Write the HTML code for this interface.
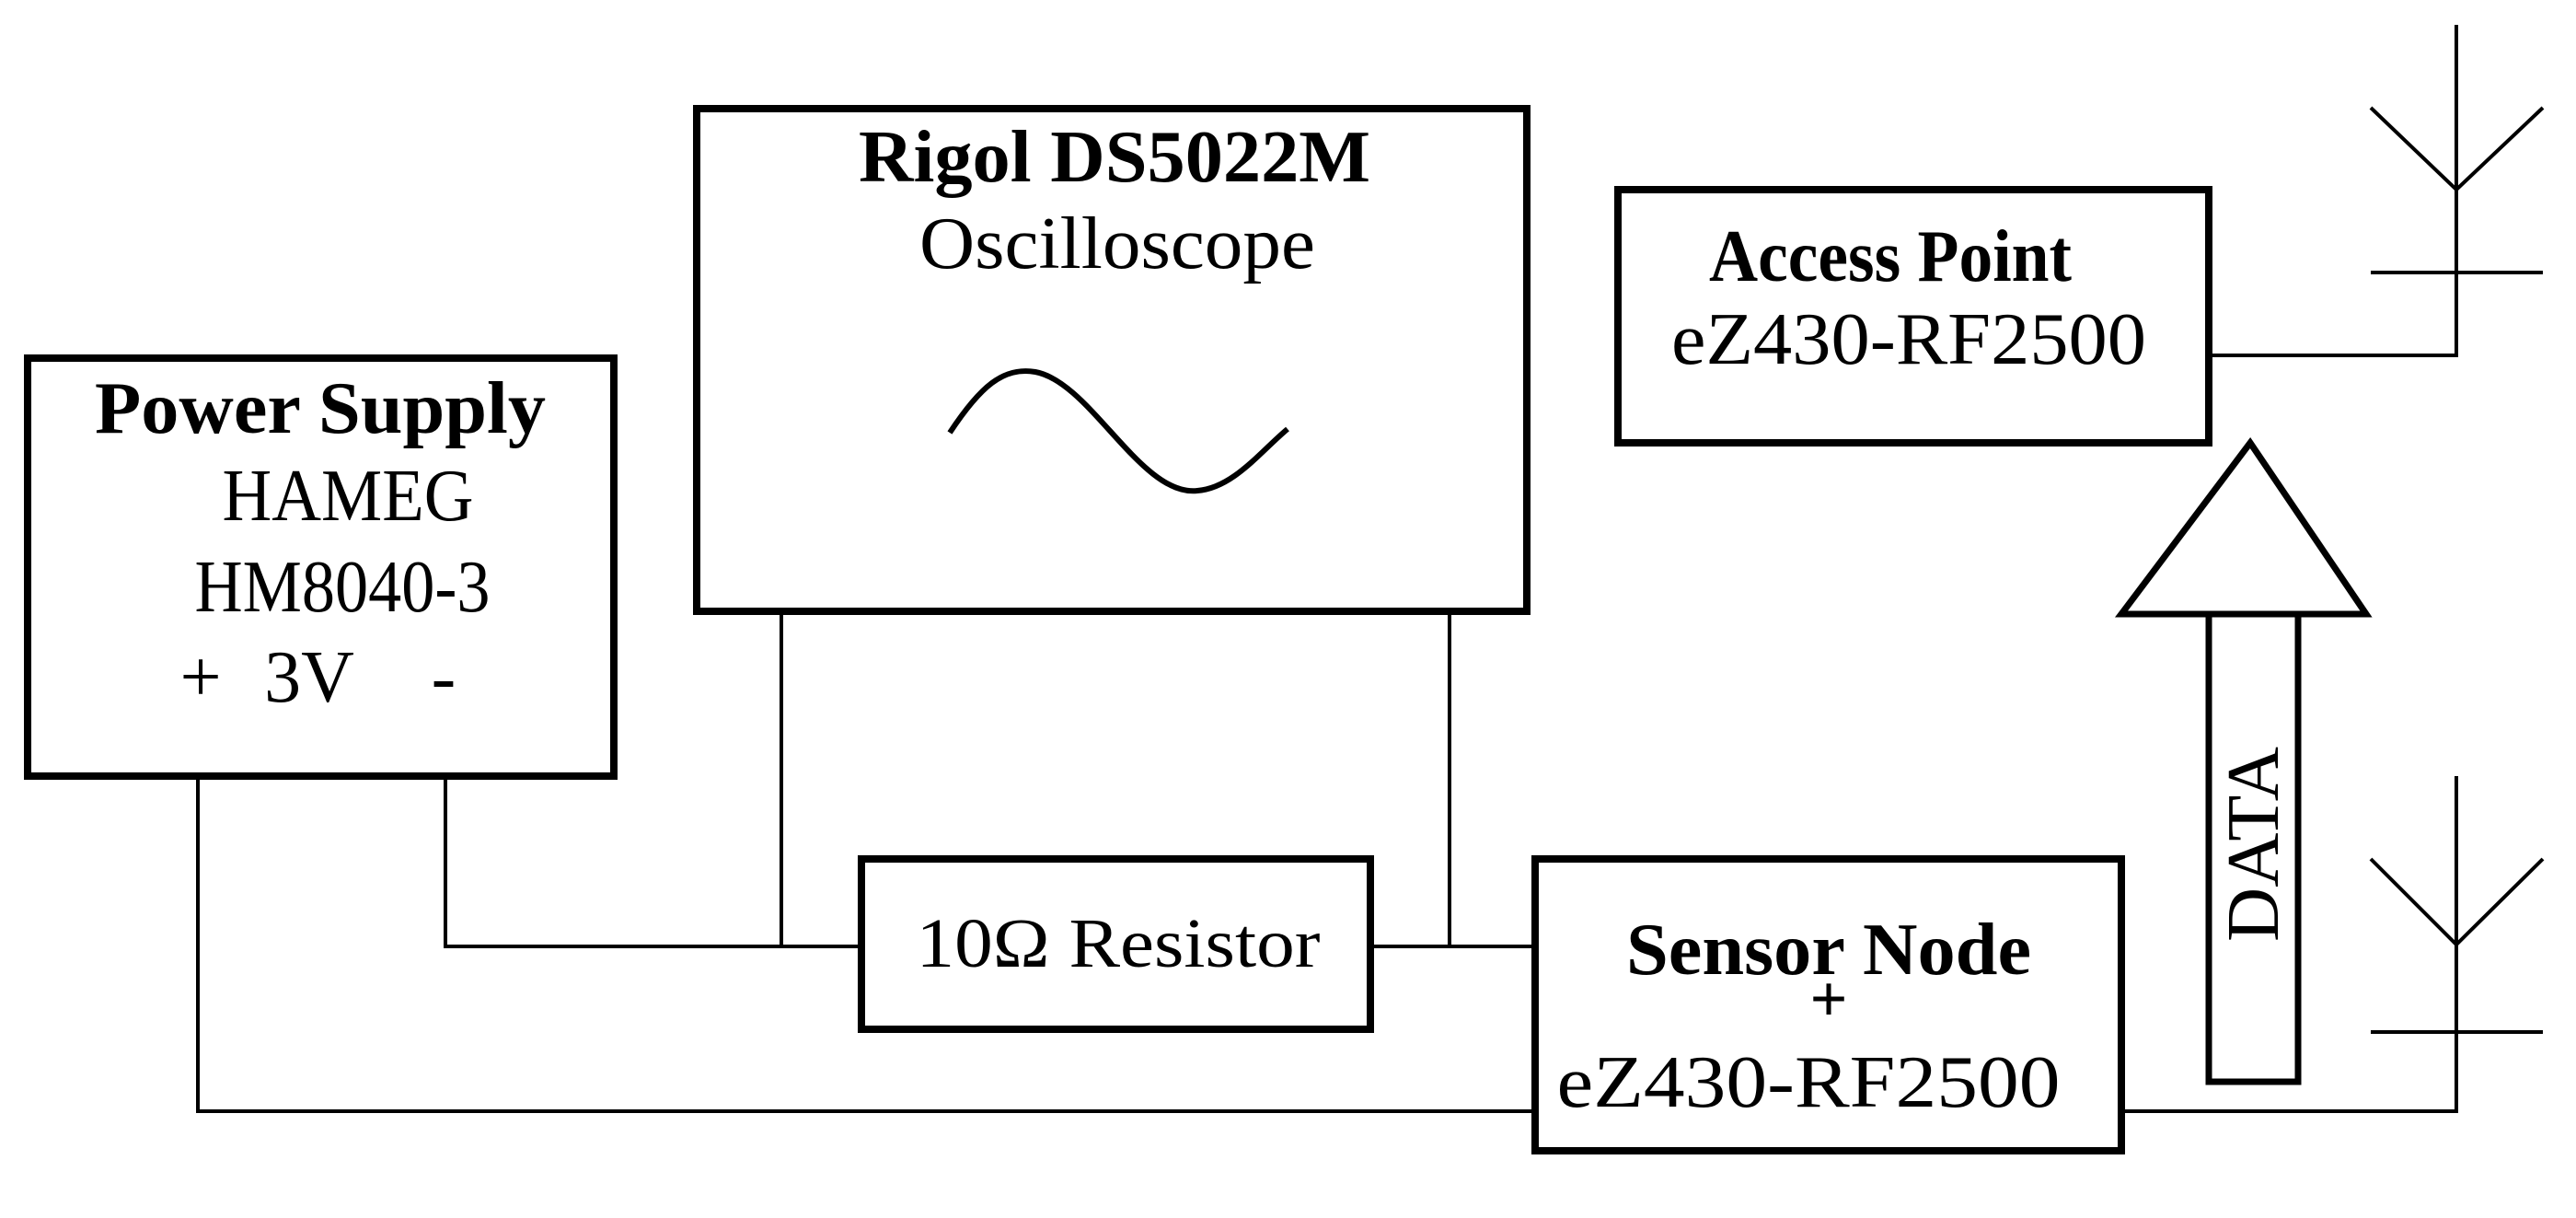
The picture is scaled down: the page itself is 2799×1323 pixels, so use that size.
<!DOCTYPE html>
<html><head><meta charset="utf-8"><style>
html,body{margin:0;padding:0;background:#fff}
svg{display:block}
text{font-family:"Liberation Serif",serif;fill:#000}
.b{font-weight:bold}
</style></head><body>
<svg width="2799" height="1323" viewBox="0 0 2799 1323" xmlns="http://www.w3.org/2000/svg">
<g fill="none" stroke="#000" stroke-width="4">
<!-- wires -->
<polyline points="215,843 215,1207 1668,1207"/>
<polyline points="484,843 484,1028 936,1028"/>
<line x1="849" y1="664" x2="849" y2="1028"/>
<line x1="1575" y1="664" x2="1575" y2="1028"/>
<line x1="1489" y1="1028" x2="1668" y2="1028"/>
<polyline points="2400,386 2669,386 2669,27"/>
<polyline points="2576,117 2669,206 2763,117"/>
<line x1="2576" y1="296" x2="2763" y2="296"/>
<polyline points="2305,1207 2669,1207 2669,843"/>
<polyline points="2576,933 2669,1026 2763,933"/>
<line x1="2576" y1="1121" x2="2763" y2="1121"/>
</g>
<g fill="#fff" stroke="#000" stroke-width="8">
<rect x="30" y="389" width="637" height="454"/>
<rect x="757" y="118" width="902" height="546"/>
<rect x="936" y="933" width="553" height="185"/>
<rect x="1668" y="933" width="637" height="317"/>
<rect x="1758" y="206" width="642" height="275"/>
<polygon points="2445,481 2571,667 2305,667" stroke-width="7"/>
<rect x="2400" y="667" width="97" height="508" stroke-width="7"/>
</g>
<path d="M1032,470 C1065,420 1090,398 1125,404 C1185,415 1240,540 1301,533 C1340,530 1370,490 1399,466" fill="none" stroke="#000" stroke-width="6"/>
<text class="b" x="348" y="470" font-size="80" text-anchor="middle" textLength="490" lengthAdjust="spacingAndGlyphs">Power Supply</text>
<text x="378" y="565" font-size="80" text-anchor="middle" textLength="273" lengthAdjust="spacingAndGlyphs">HAMEG</text>
<text x="372" y="664" font-size="80" text-anchor="middle" textLength="321" lengthAdjust="spacingAndGlyphs">HM8040-3</text>
<text x="218" y="762" font-size="80" text-anchor="middle">+</text>
<text x="336" y="762" font-size="80" text-anchor="middle">3V</text>
<text x="482" y="762" font-size="80" text-anchor="middle">-</text>
<text class="b" x="1211" y="197" font-size="80" text-anchor="middle" textLength="556" lengthAdjust="spacingAndGlyphs">Rigol DS5022M</text>
<text x="1214" y="291" font-size="80" text-anchor="middle" textLength="430" lengthAdjust="spacingAndGlyphs">Oscilloscope</text>
<text x="1215" y="1050" font-size="76" text-anchor="middle" textLength="439" lengthAdjust="spacingAndGlyphs">10Ω Resistor</text>
<text class="b" x="2054" y="305" font-size="80" text-anchor="middle" textLength="394" lengthAdjust="spacingAndGlyphs">Access Point</text>
<text x="2074" y="395" font-size="80" text-anchor="middle" textLength="516" lengthAdjust="spacingAndGlyphs">eZ430-RF2500</text>
<text class="b" x="1987" y="1058" font-size="80" text-anchor="middle" textLength="440" lengthAdjust="spacingAndGlyphs">Sensor Node</text>
<text class="b" x="1987" y="1109" font-size="72" text-anchor="middle">+</text>
<text x="1965" y="1202" font-size="80" text-anchor="middle" textLength="547" lengthAdjust="spacingAndGlyphs">eZ430-RF2500</text>
<text x="0" y="0" font-size="80" text-anchor="middle" textLength="212" lengthAdjust="spacingAndGlyphs" transform="translate(2475,917) rotate(-90)">DATA</text>
</svg>
</body></html>
